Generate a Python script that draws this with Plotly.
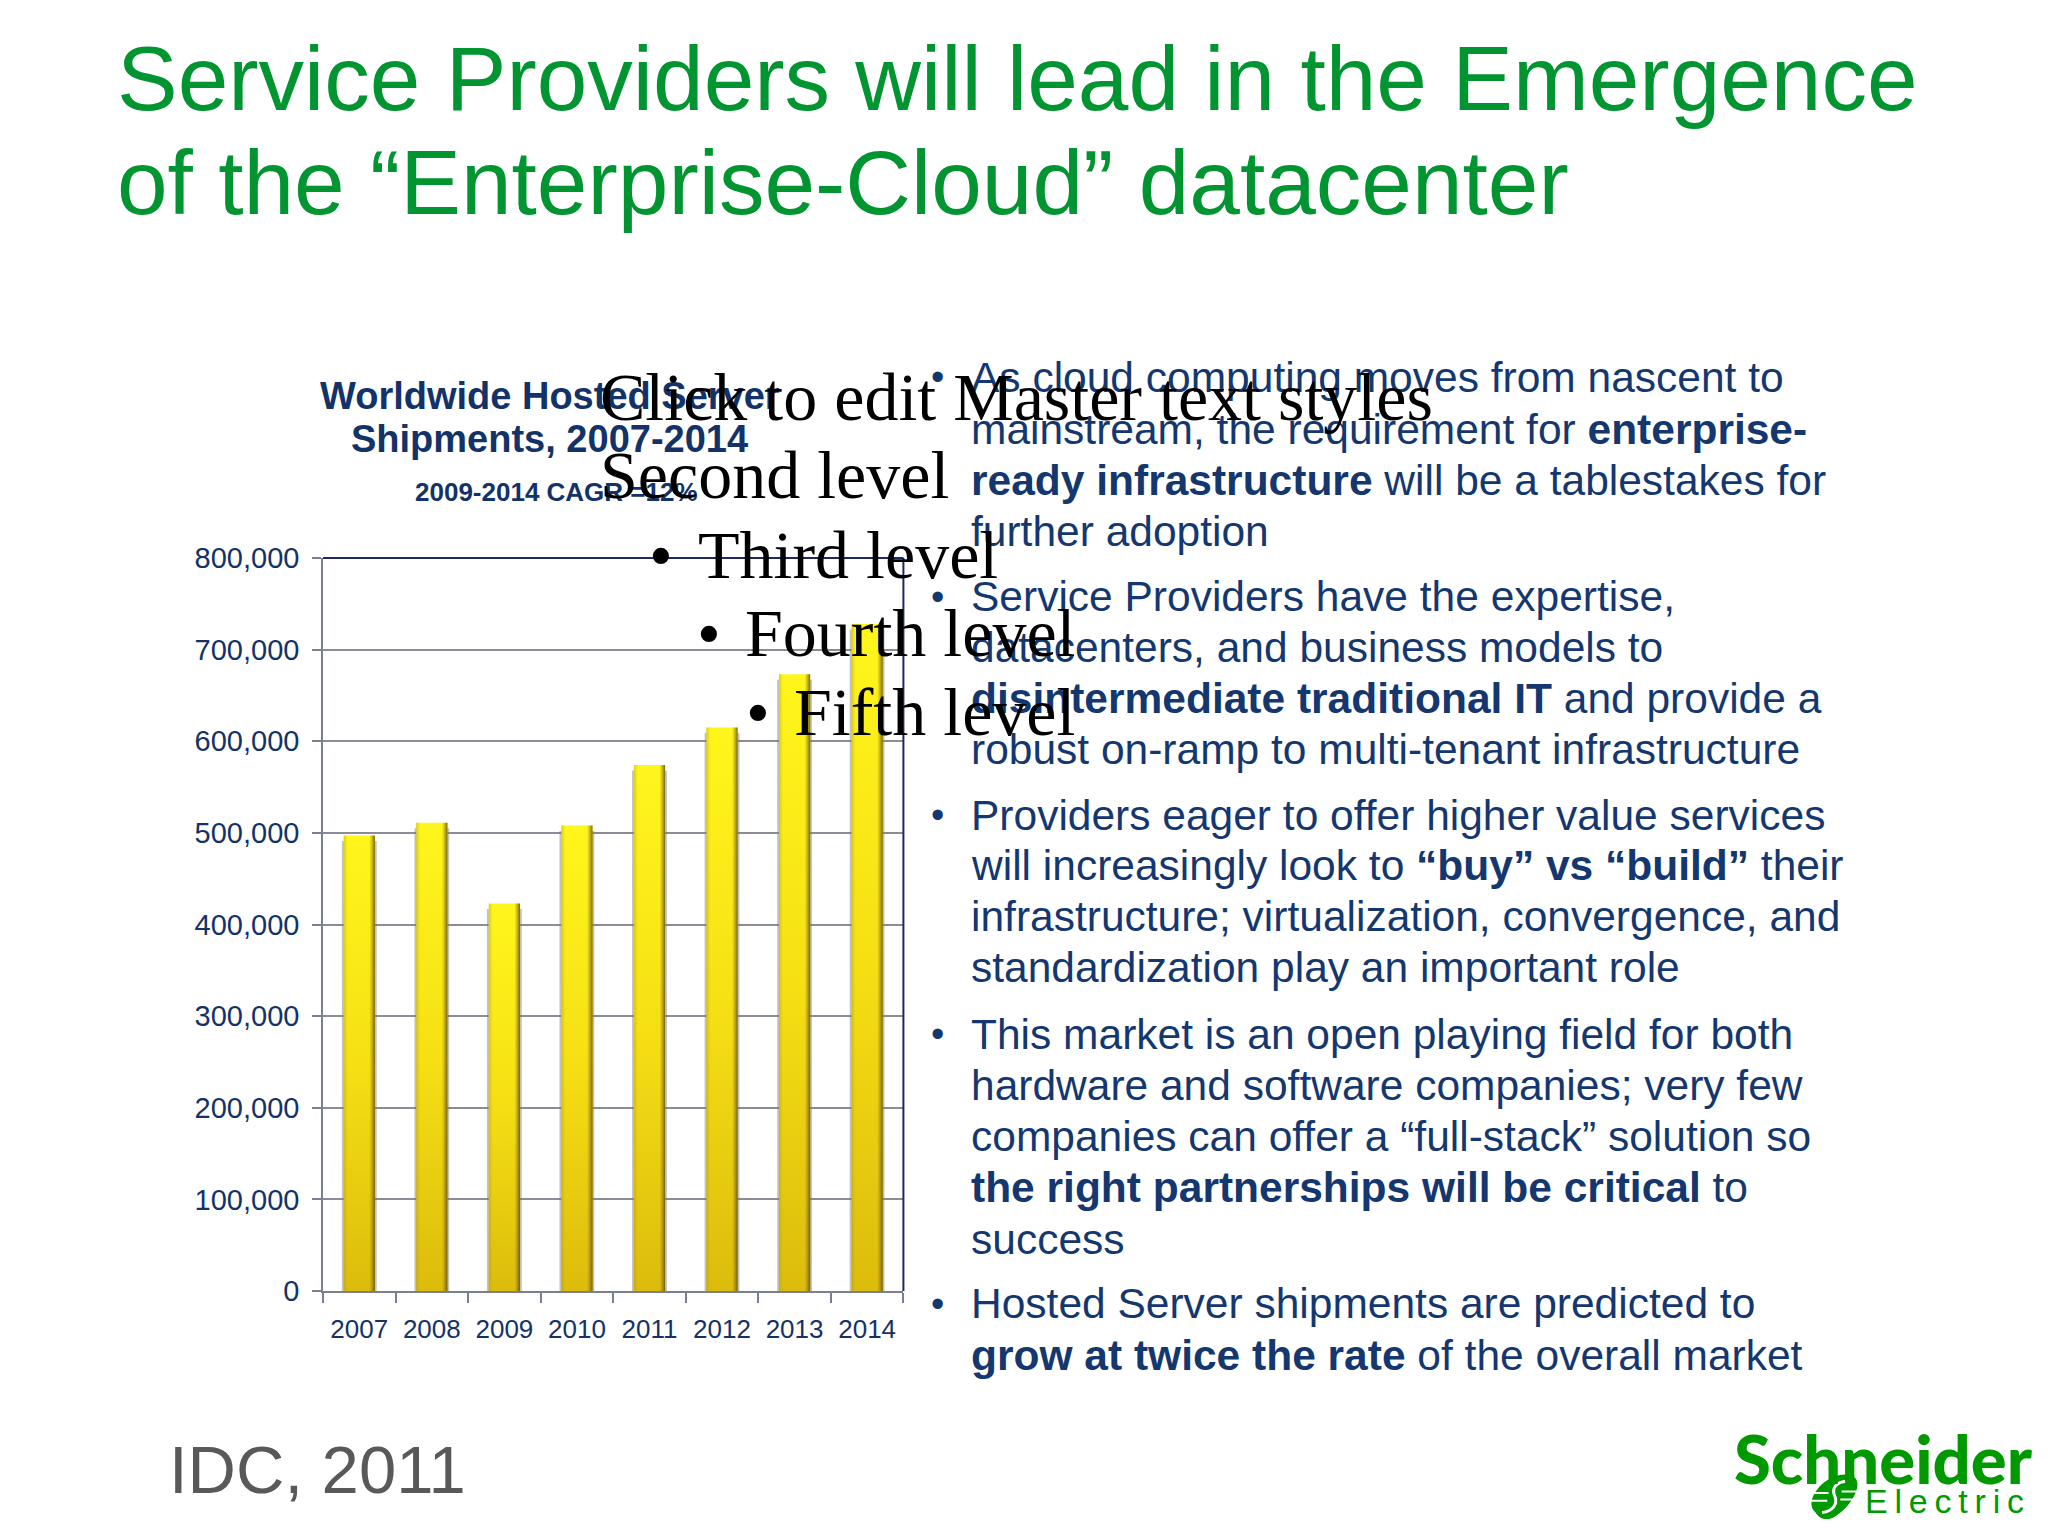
import plotly.graph_objects as go

years = ["2007", "2008", "2009", "2010", "2011", "2012", "2013", "2014"]
shipments = [497000, 511000, 423000, 508000, 574000, 615000, 673000, 728000]
y_ticks = [0, 100000, 200000, 300000, 400000, 500000, 600000, 700000, 800000]
y_tick_labels = ["0", "100,000", "200,000", "300,000", "400,000", "500,000", "600,000", "700,000", "800,000"]

title_lines = ["Service Providers will lead in the Emergence", "of the \u201cEnterprise-Cloud\u201d datacenter"]
chart_title_lines = ["<b>Worldwide Hosted Server</b>", "<b>Shipments, 2007-2014</b>"]
chart_subtitle = "<b>2009-2014 CAGR =12%</b>"
source_note = "IDC, 2011"
master_lines = ["Click to edit Master text styles", "Second level", "Third level", "Fourth level", "Fifth level"]
body_lines = [
    "As cloud computing moves from nascent to",
    "mainstream, the requirement for <b>enterprise-</b>",
    "<b>ready infrastructure</b> will be a tablestakes for",
    "further adoption",
    "Service Providers have the expertise,",
    "datacenters, and business models to",
    "<b>disintermediate traditional IT</b> and provide a",
    "robust on-ramp to multi-tenant infrastructure",
    "Providers eager to offer higher value services",
    "will increasingly look to <b>\u201cbuy\u201d vs \u201cbuild\u201d</b> their",
    "infrastructure; virtualization, convergence, and",
    "standardization play an important role",
    "This market is an open playing field for both",
    "hardware and software companies; very few",
    "companies can offer a \u201cfull-stack\u201d solution so",
    "<b>the right partnerships will be critical</b> to",
    "success",
    "Hosted Server shipments are predicted to",
    "<b>grow at twice the rate</b> of the overall market",
]

W, H = 2048, 1536
NAVY = "#133268"
GREEN = "#009530"
BODY = "#14376f"
SANS = "Liberation Sans"
SERIF = "Liberation Serif"
S = 2048 / 1568  # layout below is measured on a 1568-wide view

annotations = []


def label(text, px, py, size, color, family=SANS, anchor="left", weight=None):
    shift = 2 if anchor == "left" else 0
    font = dict(family=family, size=size, color=color)
    if weight:
        font["weight"] = weight
    annotations.append(dict(
        text=text, xref="paper", yref="paper", x=(px - shift) * S / W, y=1 - py * S / H,
        xanchor=anchor, yanchor="middle", showarrow=False, align=anchor, font=font,
    ))


label(title_lines[0], 90, 60, 91, GREEN)
label(title_lines[1], 90, 140, 91, GREEN)

label(chart_title_lines[0], 421, 303, 38, NAVY, anchor="center")
label(chart_title_lines[1], 421, 336, 38, NAVY, anchor="center")
label(chart_subtitle, 426, 377, 26, NAVY, anchor="center")

body_y = [289, 329, 368, 407, 457, 496, 535, 574, 624, 663, 702, 741, 792, 831, 870, 909, 949, 998, 1038]
for text, y in zip(body_lines, body_y):
    label(text, 744, y, 42.5, BODY)
for y in [289, 457, 624, 792, 998]:
    label("\u2022", 713, y, 38, BODY)

label(source_note, 130, 1125, 67, "#595959")

# Master text placeholder sits over everything else
label(master_lines[0], 460, 304, 68, "#000000", SERIF)
label(master_lines[1], 460, 364, 68, "#000000", SERIF)
label("\u2022", 497, 425, 68, "#000000", SERIF)
label(master_lines[2], 535, 425, 68, "#000000", SERIF)
label("\u2022", 534, 485, 68, "#000000", SERIF)
label(master_lines[3], 571, 485, 68, "#000000", SERIF)
label("\u2022", 572, 545, 68, "#000000", SERIF)
label(master_lines[4], 608, 545, 68, "#000000", SERIF)

# Logo
LOGO = "#009a00"
label("Schneider", 1442, 1116, 67, LOGO, "Lato", anchor="center", weight=900)
label("E\u2009l\u2009e\u2009c\u2009t\u2009r\u2009i\u2009c", 1489, 1149, 34, LOGO, SANS, anchor="center")


def logo_path(*cmds):
    out = []
    for c in cmds:
        out.append(c[0])
        pts = c[1:]
        for i in range(0, len(pts), 2):
            out.append(f"{pts[i] * S / W} {1 - pts[i + 1] * S / H}")
    return " ".join(out)


shapes = [
    dict(type="line", xref="x domain", yref="y domain", x0=0, x1=1, y0=1, y1=1,
         line=dict(color="#1c2a5e", width=2), layer="above"),
    dict(type="line", xref="x domain", yref="y domain", x0=1, x1=1, y0=0, y1=1,
         line=dict(color="#1c2a5e", width=2), layer="above"),
    dict(type="path", xref="paper", yref="paper",
         path=logo_path(("M", 1390, 1158), ("C", 1380, 1150, 1396, 1128, 1414, 1129),
                        ("C", 1430, 1130, 1420, 1152, 1405, 1161),
                        ("C", 1399, 1165, 1393, 1163, 1390, 1158), ("Z",)),
         fillcolor=LOGO, line=dict(width=0), layer="above"),
    dict(type="path", xref="paper", yref="paper",
         path=logo_path(("M", 1415, 1134), ("C", 1405, 1134, 1402, 1140, 1405, 1146),
                        ("C", 1407, 1152, 1403, 1157, 1395, 1158)),
         line=dict(color="#ffffff", width=3), layer="above"),
    dict(type="path", xref="paper", yref="paper",
         path=logo_path(("M", 1386, 1143), ("L", 1400, 1143), ("M", 1385, 1149), ("L", 1399, 1149),
                        ("M", 1410, 1142), ("L", 1423, 1142), ("M", 1409, 1148), ("L", 1421, 1148)),
         line=dict(color="#ffffff", width=2), layer="above"),
]

fig = go.Figure()
bar_width = 0.43
fig.add_trace(go.Bar(x=years, y=shipments, base=-6000, width=bar_width + 0.05, cliponaxis=False,
                     marker=dict(color="rgba(120,120,110,0.45)", line=dict(width=0)), hoverinfo="skip"))
fig.add_trace(go.Bar(x=years, y=shipments, width=bar_width,
                     marker=dict(color="#f2dc12", line=dict(width=0))))
fig.add_trace(go.Bar(x=years, y=shipments, width=bar_width,
                     marker=dict(color="rgba(0,0,0,0)", line=dict(width=0)), hoverinfo="skip"))

axis_color = "#7b7f92"
fig.update_layout(
    width=W, height=H, margin=dict(l=0, r=0, t=0, b=0, autoexpand=False), showlegend=False,
    barmode="overlay", paper_bgcolor="#ffffff", plot_bgcolor="#ffffff",
    xaxis=dict(domain=[323 / W, 903.4 / W], type="category", showgrid=False, automargin=False,
               tickson="boundaries", ticks="outside", ticklen=10, tickwidth=1.5, tickcolor=axis_color,
               ticklabelstandoff=14,
               showline=True, linecolor=axis_color, linewidth=1.5,
               tickfont=dict(family=SANS, size=26, color=NAVY)),
    yaxis=dict(domain=[1 - 1291 / H, 1 - 558 / H], range=[0, 800000], automargin=False,
               tickmode="array", tickvals=y_ticks, ticktext=y_tick_labels,
               ticks="outside", ticklen=9, tickwidth=1.5, tickcolor=axis_color,
               ticklabelstandoff=7,
               showgrid=True, gridcolor="#8a8d98", gridwidth=1.5, zeroline=False,
               showline=True, linecolor=axis_color, linewidth=1.5,
               tickfont=dict(family=SANS, size=29, color=NAVY)),
    annotations=annotations, shapes=shapes,
)

post_script = """
document.documentElement.style.margin = '0';
document.body.style.margin = '0';
var gd = document.getElementById('{plot_id}');
var NS = 'http://www.w3.org/2000/svg';
var svg = gd.querySelector('.main-svg');
var defs = document.createElementNS(NS, 'defs');
function grad(id, x2, y2, stops) {
  var g = document.createElementNS(NS, 'linearGradient');
  g.setAttribute('id', id);
  g.setAttribute('x1', 0); g.setAttribute('y1', 0);
  g.setAttribute('x2', x2); g.setAttribute('y2', y2);
  stops.forEach(function (s) {
    var st = document.createElementNS(NS, 'stop');
    st.setAttribute('offset', s[0]);
    st.setAttribute('stop-color', s[1]);
    st.setAttribute('stop-opacity', s[2]);
    g.appendChild(st);
  });
  defs.appendChild(g);
}
grad('barV', 0, 1, [[0, '#fff61c', 1], [0.5, '#f6e014', 1], [1, '#dcbc0c', 1]]);
grad('barH', 1, 0, [[0, '#a08a20', 0.4], [0.13, '#c0a010', 0], [0.82, '#a08000', 0], [1, '#5a4a00', 0.85]]);
svg.insertBefore(defs, svg.firstChild);
var traces = gd.querySelectorAll('.barlayer .trace');
traces[1].querySelectorAll('path').forEach(function (p) { p.style.fill = 'url(#barV)'; });
traces[2].querySelectorAll('path').forEach(function (p) {
  p.style.fill = 'url(#barH)'; p.style.fillOpacity = 1;
});
"""
fig.write_html("out.html", post_script=post_script, config=dict(displayModeBar=False))
